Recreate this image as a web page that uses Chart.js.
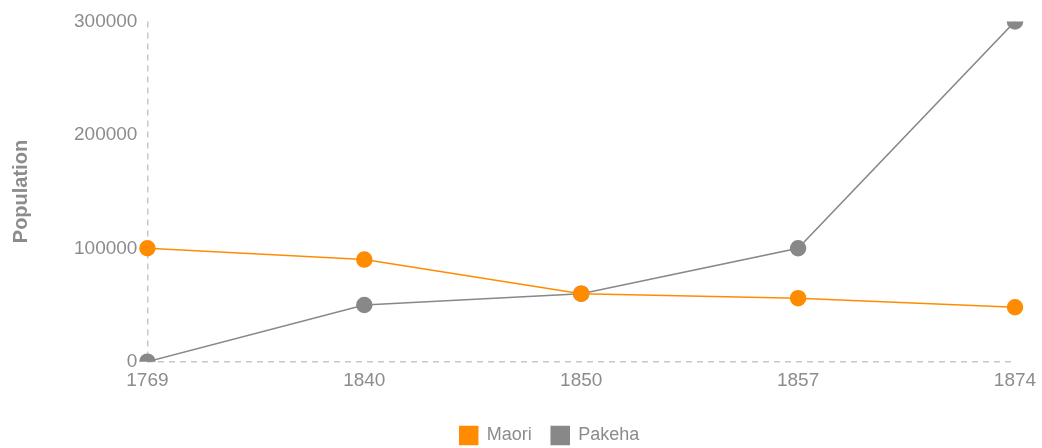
<!DOCTYPE html>
<html>
<head>
<meta charset="utf-8">
<script src="https://cdn.jsdelivr.net/npm/chart.js@4"></script>
<style>
  html, body { margin: 0; padding: 0; background: #fff; }
  #wrap { width: 1042px; height: 448px; }
</style>
</head>
<body>
<div id="wrap"><canvas id="popChart"></canvas></div>
<script>
// ====== Data ======
const years = ["1769", "1840", "1850", "1857", "1874"];
const maori = [100000, 90000, 60000, 56000, 48000];
const pakeha = [0, 50000, 60000, 100000, 300000];
const yTicks = [0, 100000, 200000, 300000];

const ORANGE = "#ff8c00";
const GREY = "#888888";
const TEXT = "#8c8c8c";
const AXIS = "#c8c8c8";

Chart.defaults.font.family = "'Liberation Sans', Arial, sans-serif";
Chart.defaults.color = TEXT;

function series(label, data, color) {
  return {
    label: label,
    data: data,
    borderColor: color,
    backgroundColor: color,
    pointBackgroundColor: color,
    pointBorderColor: color,
    borderWidth: 1.5,
    pointRadius: 7.5,
    pointHoverRadius: 7.5,
    tension: 0
  };
}

// only the first grid line is drawn, dashed, standing in for the axis line
const firstLineOnly = ctx => (ctx.index === 0 ? AXIS : "rgba(0,0,0,0)");

// nudge the legend to where the original puts it
const legendNudge = {
  id: "legendNudge",
  afterLayout(chart) {
    const l = chart.legend;
    if (!l) return;
    l.left += 37.5; l.right += 37.5;
    l.top += 6.5; l.bottom += 6.5;
  }
};

// ====== Render Chart ======
new Chart(document.getElementById("popChart"), {
  type: "line",
  data: {
    labels: years,
    datasets: [series("Maori", maori, ORANGE), series("Pakeha", pakeha, GREY)]
  },
  plugins: [legendNudge],
  options: {
    responsive: true,
    maintainAspectRatio: false,
    animation: false,
    layout: { padding: { top: 4, right: 23, left: 5, bottom: 0 } },
    plugins: {
      tooltip: { enabled: false },
      legend: {
        position: "bottom",
        labels: {
          boxWidth: 18,
          boxHeight: 18,
          padding: 19.5,
          font: { size: 18 },
          color: TEXT
        }
      }
    },
    scales: {
      x: {
        offset: false,
        afterFit: scale => { scale.paddingRight = 27; },
        grid: { display: true, drawTicks: false, color: firstLineOnly, lineWidth: 1.5 },
        border: { display: false, dash: [6, 5] },
        ticks: { font: { size: 19 }, color: TEXT, padding: 8 }
      },
      y: {
        min: 0,
        max: 300000,
        afterBuildTicks: axis => { axis.ticks = yTicks.map(v => ({ value: v })); },
        grid: { display: true, drawTicks: false, color: firstLineOnly, lineWidth: 1.5 },
        border: { display: false, dash: [6, 5] },
        ticks: {
          font: { size: 19 },
          color: TEXT,
          padding: 10,
          callback: v => String(v)
        },
        title: {
          display: true,
          text: "Population",
          font: { size: 20, weight: "bold" },
          color: TEXT,
          padding: { bottom: 31 }
        }
      }
    }
  }
});
</script>
</body>
</html>
